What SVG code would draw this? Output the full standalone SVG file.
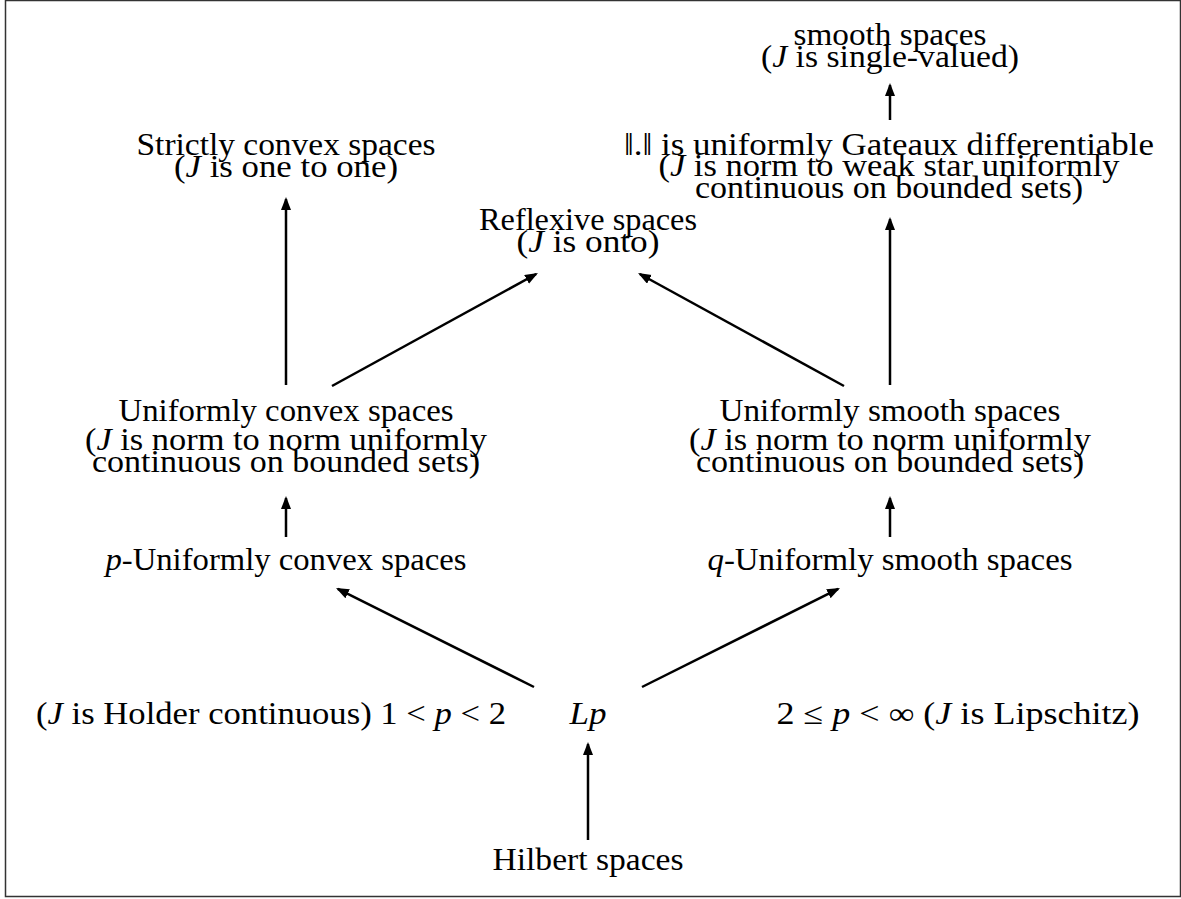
<svg xmlns="http://www.w3.org/2000/svg" width="1181" height="899" viewBox="0 0 1181 899">
<style>
text{font-family:"Liberation Serif","Times New Roman",serif;font-size:31px;fill:#000;text-anchor:middle}
.m{font-style:italic}
.c line{stroke:#000;stroke-width:2.5;marker-end:url(#ah)}
</style>
<defs>
<marker id="ah" markerUnits="userSpaceOnUse" markerWidth="14" markerHeight="11" refX="11" refY="5" orient="auto">
<path d="M0,0 L13,5 L0,10 z" fill="#000"/>
</marker>
</defs>
<rect x="5.5" y="0.5" width="1175" height="896" fill="#fff" stroke="#333" stroke-width="1.5"/>
<g id="n_smooth">
<text x="890" y="45" textLength="193" lengthAdjust="spacingAndGlyphs">smooth spaces</text>
<text x="890" y="67" textLength="258" lengthAdjust="spacingAndGlyphs">(<tspan class="m">J</tspan> is single-valued)</text>
</g>
<g id="n_gateaux">
<text x="889" y="155" textLength="530" lengthAdjust="spacingAndGlyphs">‖.‖ is uniformly Gateaux differentiable</text>
<text x="889" y="176" textLength="461" lengthAdjust="spacingAndGlyphs">(<tspan class="m">J</tspan> is norm to weak star uniformly</text>
<text x="889" y="198" textLength="388" lengthAdjust="spacingAndGlyphs">continuous on bounded sets)</text>
</g>
<g id="n_strict">
<text x="286" y="155" textLength="299" lengthAdjust="spacingAndGlyphs">Strictly convex spaces</text>
<text x="286" y="177" textLength="224" lengthAdjust="spacingAndGlyphs">(<tspan class="m">J</tspan> is one to one)</text>
</g>
<g id="n_reflexive">
<text x="588" y="230" textLength="218" lengthAdjust="spacingAndGlyphs">Reflexive spaces</text>
<text x="588" y="252" textLength="143" lengthAdjust="spacingAndGlyphs">(<tspan class="m">J</tspan> is onto)</text>
</g>
<g id="n_ucs">
<text x="286" y="421" textLength="335" lengthAdjust="spacingAndGlyphs">Uniformly convex spaces</text>
<text x="286" y="450" textLength="402" lengthAdjust="spacingAndGlyphs">(<tspan class="m">J</tspan> is norm to norm uniformly</text>
<text x="286" y="472" textLength="388" lengthAdjust="spacingAndGlyphs">continuous on bounded sets)</text>
</g>
<g id="n_uss">
<text x="890" y="421" textLength="341" lengthAdjust="spacingAndGlyphs">Uniformly smooth spaces</text>
<text x="890" y="450" textLength="402" lengthAdjust="spacingAndGlyphs">(<tspan class="m">J</tspan> is norm to norm uniformly</text>
<text x="890" y="472" textLength="388" lengthAdjust="spacingAndGlyphs">continuous on bounded sets)</text>
</g>
<g id="n_pucs">
<text x="286" y="570" textLength="361" lengthAdjust="spacingAndGlyphs"><tspan class="m">p</tspan>-Uniformly convex spaces</text>
</g>
<g id="n_quss">
<text x="890" y="570" textLength="365" lengthAdjust="spacingAndGlyphs"><tspan class="m">q</tspan>-Uniformly smooth spaces</text>
</g>
<g id="n_holder">
<text x="271" y="724" textLength="470" lengthAdjust="spacingAndGlyphs">(<tspan class="m">J</tspan> is Holder continuous) 1 &lt; <tspan class="m">p</tspan> &lt; 2</text>
</g>
<g id="n_lp">
<text x="588" y="724" textLength="37" lengthAdjust="spacingAndGlyphs" class="m">Lp</text>
</g>
<g id="n_lipschitz">
<text x="958" y="724" textLength="363" lengthAdjust="spacingAndGlyphs">2 ≤ <tspan class="m">p</tspan> &lt; ∞ (<tspan class="m">J</tspan> is Lipschitz)</text>
</g>
<g id="n_hilbert">
<text x="588" y="870" textLength="191" lengthAdjust="spacingAndGlyphs">Hilbert spaces</text>
</g>
<g id="connectors" class="c">
<line x1="588" y1="840" x2="588" y2="744"/>
<line x1="534" y1="687" x2="337.8" y2="588.9"/>
<line x1="642" y1="687" x2="838.2" y2="588.9"/>
<line x1="286" y1="537" x2="286" y2="498"/>
<line x1="890" y1="537" x2="890" y2="498"/>
<line x1="286" y1="385" x2="286" y2="199"/>
<line x1="332" y1="386" x2="536.2" y2="274"/>
<line x1="844" y1="386" x2="639.8" y2="274"/>
<line x1="890" y1="385" x2="890" y2="219"/>
<line x1="890" y1="120" x2="890" y2="85"/>
</g>
</svg>
